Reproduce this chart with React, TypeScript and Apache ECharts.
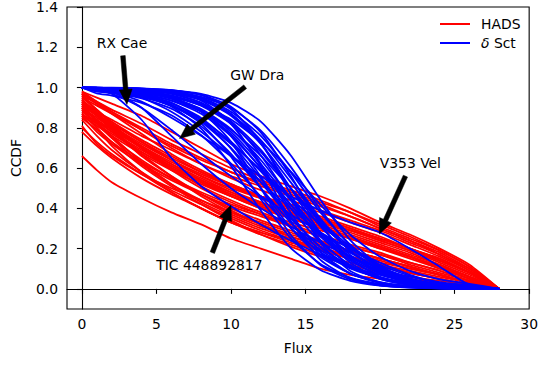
import React, { useEffect, useRef } from 'react';
import * as echarts from 'echarts';

const fluxGrid = [0, 1, 2, 4, 6, 8, 10, 12, 14, 16, 18, 20, 22, 24, 26, 28];

// HADS (red) CCDF curves, values at fluxGrid
const hadsCurves = [
  [0.98, 0.95, 0.92, 0.86, 0.78, 0.70, 0.62, 0.56, 0.51, 0.46, 0.40, 0.33, 0.27, 0.20, 0.12, 0],
  [0.97, 0.93, 0.89, 0.82, 0.74, 0.67, 0.60, 0.54, 0.49, 0.44, 0.38, 0.32, 0.26, 0.19, 0.11, 0],
  [0.95, 0.91, 0.87, 0.79, 0.71, 0.64, 0.58, 0.52, 0.47, 0.42, 0.36, 0.30, 0.24, 0.18, 0.10, 0],
  [0.93, 0.88, 0.84, 0.76, 0.69, 0.62, 0.56, 0.51, 0.46, 0.41, 0.36, 0.30, 0.24, 0.17, 0.10, 0],
  [0.96, 0.92, 0.88, 0.80, 0.72, 0.65, 0.58, 0.53, 0.48, 0.43, 0.38, 0.31, 0.25, 0.19, 0.11, 0],
  [0.92, 0.87, 0.82, 0.73, 0.65, 0.58, 0.52, 0.46, 0.41, 0.36, 0.31, 0.26, 0.20, 0.15, 0.08, 0],
  [0.90, 0.85, 0.80, 0.71, 0.63, 0.56, 0.50, 0.45, 0.40, 0.35, 0.30, 0.25, 0.20, 0.14, 0.08, 0],
  [0.94, 0.88, 0.83, 0.74, 0.66, 0.58, 0.51, 0.45, 0.39, 0.34, 0.29, 0.24, 0.19, 0.13, 0.07, 0],
  [0.89, 0.84, 0.79, 0.70, 0.62, 0.55, 0.48, 0.42, 0.37, 0.32, 0.27, 0.22, 0.17, 0.12, 0.06, 0],
  [0.97, 0.92, 0.87, 0.77, 0.67, 0.59, 0.52, 0.46, 0.40, 0.35, 0.30, 0.25, 0.20, 0.14, 0.08, 0],
  [0.91, 0.86, 0.81, 0.72, 0.64, 0.57, 0.51, 0.46, 0.42, 0.38, 0.33, 0.28, 0.22, 0.16, 0.09, 0],
  [0.88, 0.83, 0.78, 0.69, 0.61, 0.54, 0.48, 0.43, 0.38, 0.34, 0.29, 0.24, 0.19, 0.14, 0.08, 0],
  [0.95, 0.89, 0.83, 0.73, 0.64, 0.56, 0.49, 0.43, 0.38, 0.33, 0.28, 0.23, 0.18, 0.12, 0.06, 0],
  [0.86, 0.81, 0.76, 0.67, 0.59, 0.52, 0.46, 0.41, 0.36, 0.31, 0.26, 0.21, 0.16, 0.11, 0.05, 0],
  [0.93, 0.87, 0.81, 0.71, 0.62, 0.54, 0.47, 0.41, 0.36, 0.31, 0.26, 0.21, 0.16, 0.10, 0.05, 0],
  [0.90, 0.84, 0.78, 0.68, 0.60, 0.53, 0.47, 0.42, 0.37, 0.33, 0.29, 0.25, 0.20, 0.15, 0.08, 0],
  [0.98, 0.93, 0.88, 0.79, 0.70, 0.62, 0.55, 0.49, 0.44, 0.39, 0.34, 0.29, 0.23, 0.17, 0.09, 0],
  [0.87, 0.82, 0.77, 0.68, 0.60, 0.53, 0.46, 0.40, 0.35, 0.30, 0.25, 0.20, 0.15, 0.10, 0.05, 0],
  [0.92, 0.86, 0.80, 0.70, 0.61, 0.53, 0.46, 0.40, 0.35, 0.30, 0.25, 0.21, 0.16, 0.11, 0.06, 0],
  [0.85, 0.79, 0.73, 0.63, 0.55, 0.48, 0.42, 0.37, 0.32, 0.27, 0.22, 0.18, 0.13, 0.09, 0.04, 0],
  [0.89, 0.82, 0.75, 0.64, 0.55, 0.47, 0.40, 0.34, 0.29, 0.24, 0.19, 0.15, 0.11, 0.07, 0.03, 0],
  [0.81, 0.72, 0.66, 0.57, 0.50, 0.44, 0.38, 0.33, 0.28, 0.23, 0.19, 0.15, 0.11, 0.07, 0.03, 0],
  [0.94, 0.86, 0.79, 0.66, 0.56, 0.47, 0.39, 0.32, 0.26, 0.21, 0.16, 0.12, 0.08, 0.05, 0.02, 0],
  [0.66, 0.59, 0.53, 0.45, 0.38, 0.32, 0.25, 0.20, 0.15, 0.10, 0.07, 0.05, 0.03, 0.02, 0.01, 0],
  [0.84, 0.76, 0.69, 0.58, 0.49, 0.42, 0.35, 0.29, 0.24, 0.19, 0.15, 0.11, 0.08, 0.05, 0.02, 0],
  [0.91, 0.83, 0.76, 0.63, 0.52, 0.43, 0.36, 0.30, 0.25, 0.20, 0.16, 0.12, 0.09, 0.06, 0.03, 0],
  [0.87, 0.80, 0.73, 0.61, 0.51, 0.42, 0.34, 0.27, 0.21, 0.16, 0.12, 0.08, 0.05, 0.03, 0.01, 0],
  [0.96, 0.89, 0.82, 0.70, 0.59, 0.50, 0.43, 0.37, 0.31, 0.26, 0.21, 0.17, 0.13, 0.09, 0.04, 0],
  [0.78, 0.71, 0.65, 0.55, 0.47, 0.40, 0.33, 0.27, 0.22, 0.17, 0.13, 0.09, 0.06, 0.04, 0.02, 0],
  [0.92, 0.83, 0.75, 0.62, 0.52, 0.44, 0.37, 0.31, 0.26, 0.22, 0.18, 0.14, 0.10, 0.07, 0.03, 0],
  [0.97, 0.88, 0.80, 0.67, 0.56, 0.46, 0.38, 0.32, 0.27, 0.23, 0.19, 0.15, 0.11, 0.07, 0.03, 0],
  [0.90, 0.80, 0.71, 0.58, 0.48, 0.40, 0.33, 0.28, 0.23, 0.19, 0.15, 0.11, 0.08, 0.05, 0.02, 0],
  [0.86, 0.78, 0.72, 0.62, 0.54, 0.47, 0.41, 0.36, 0.31, 0.26, 0.21, 0.17, 0.12, 0.08, 0.04, 0],
  [0.93, 0.87, 0.81, 0.70, 0.60, 0.51, 0.44, 0.38, 0.33, 0.29, 0.25, 0.20, 0.16, 0.11, 0.06, 0],
  [0.80, 0.73, 0.67, 0.57, 0.48, 0.40, 0.33, 0.28, 0.24, 0.20, 0.16, 0.13, 0.10, 0.07, 0.03, 0],
];

// delta Sct (blue) CCDF curves, values at fluxGrid
const dsctCurves = [
  [1.0, 0.999, 0.998, 0.995, 0.987, 0.968, 0.924, 0.831, 0.664, 0.443, 0.242, 0.114, 0.050, 0.021, 0.008, 0],
  [1.0, 0.998, 0.996, 0.992, 0.980, 0.954, 0.898, 0.786, 0.607, 0.394, 0.214, 0.102, 0.046, 0.020, 0.008, 0],
  [1.0, 0.996, 0.995, 0.988, 0.972, 0.938, 0.867, 0.739, 0.552, 0.349, 0.188, 0.092, 0.042, 0.019, 0.008, 0],
  [1.0, 0.999, 0.998, 0.995, 0.986, 0.963, 0.905, 0.777, 0.562, 0.321, 0.148, 0.060, 0.023, 0.009, 0.003, 0],
  [1.0, 0.995, 0.992, 0.982, 0.961, 0.917, 0.832, 0.690, 0.500, 0.310, 0.168, 0.083, 0.039, 0.018, 0.008, 0],
  [1.0, 0.998, 0.997, 0.991, 0.978, 0.946, 0.870, 0.721, 0.500, 0.279, 0.130, 0.054, 0.022, 0.008, 0.003, 0],
  [1.0, 0.992, 0.988, 0.975, 0.947, 0.893, 0.794, 0.640, 0.452, 0.277, 0.151, 0.076, 0.037, 0.017, 0.008, 0],
  [1.0, 0.997, 0.995, 0.987, 0.968, 0.924, 0.831, 0.664, 0.443, 0.242, 0.114, 0.050, 0.021, 0.008, 0.003, 0],
  [1.0, 0.992, 0.988, 0.973, 0.943, 0.881, 0.769, 0.599, 0.401, 0.231, 0.119, 0.057, 0.027, 0.012, 0.005, 0],
  [1.0, 0.998, 0.996, 0.989, 0.971, 0.924, 0.818, 0.622, 0.378, 0.182, 0.076, 0.029, 0.011, 0.004, 0.001, 0],
  [1.0, 0.988, 0.983, 0.963, 0.924, 0.849, 0.723, 0.548, 0.359, 0.206, 0.107, 0.053, 0.025, 0.012, 0.006, 0],
  [1.0, 0.995, 0.992, 0.979, 0.950, 0.886, 0.758, 0.557, 0.336, 0.169, 0.076, 0.032, 0.013, 0.005, 0.002, 0],
  [1.0, 0.990, 0.985, 0.966, 0.924, 0.841, 0.697, 0.500, 0.303, 0.159, 0.076, 0.034, 0.015, 0.007, 0.003, 0],
  [1.0, 0.996, 0.993, 0.982, 0.953, 0.881, 0.731, 0.500, 0.269, 0.119, 0.047, 0.018, 0.007, 0.002, 0.001, 0],
  [1.0, 0.990, 0.984, 0.963, 0.916, 0.821, 0.657, 0.445, 0.252, 0.124, 0.056, 0.024, 0.010, 0.004, 0.002, 0],
  [1.0, 0.990, 0.984, 0.960, 0.906, 0.796, 0.611, 0.389, 0.204, 0.094, 0.040, 0.016, 0.007, 0.003, 0.001, 0],
  [1.0, 0.987, 0.982, 0.966, 0.935, 0.881, 0.791, 0.661, 0.500, 0.339, 0.209, 0.119, 0.065, 0.034, 0.018, 0],
  [1.0, 0.982, 0.975, 0.953, 0.911, 0.841, 0.731, 0.583, 0.417, 0.269, 0.159, 0.089, 0.047, 0.025, 0.013, 0],
  [1.0, 0.981, 0.973, 0.946, 0.895, 0.807, 0.671, 0.500, 0.329, 0.193, 0.105, 0.054, 0.027, 0.013, 0.007, 0],
  [1.0, 0.991, 0.987, 0.975, 0.953, 0.911, 0.841, 0.731, 0.583, 0.417, 0.269, 0.159, 0.089, 0.047, 0.025, 0],
  [1.0, 0.999, 0.999, 0.996, 0.987, 0.962, 0.892, 0.731, 0.472, 0.228, 0.089, 0.031, 0.010, 0.003, 0.001, 0],
  [1.0, 0.999, 0.998, 0.993, 0.978, 0.935, 0.826, 0.609, 0.339, 0.144, 0.053, 0.018, 0.006, 0.002, 0.001, 0],
  [1.0, 0.971, 0.960, 0.924, 0.862, 0.763, 0.622, 0.458, 0.303, 0.182, 0.102, 0.056, 0.029, 0.015, 0.008, 0],
  [1.0, 0.998, 0.990, 0.950, 0.880, 0.780, 0.660, 0.530, 0.400, 0.280, 0.180, 0.100, 0.050, 0.020, 0.007, 0],
  [1.0, 0.997, 0.990, 0.960, 0.910, 0.830, 0.720, 0.590, 0.450, 0.320, 0.200, 0.110, 0.050, 0.020, 0.006, 0],
  [1.0, 0.995, 0.980, 0.900, 0.760, 0.620, 0.500, 0.400, 0.310, 0.230, 0.160, 0.100, 0.060, 0.030, 0.010, 0],
  [1.0, 0.997, 0.993, 0.980, 0.950, 0.890, 0.780, 0.620, 0.440, 0.280, 0.160, 0.080, 0.035, 0.014, 0.005, 0],
  [1.0, 0.999, 0.997, 0.990, 0.975, 0.940, 0.860, 0.720, 0.530, 0.340, 0.190, 0.090, 0.040, 0.015, 0.005, 0],
  [1.0, 0.990, 0.980, 0.955, 0.910, 0.830, 0.700, 0.530, 0.350, 0.210, 0.110, 0.050, 0.020, 0.008, 0.003, 0],
  [1.0, 0.995, 0.990, 0.970, 0.935, 0.870, 0.760, 0.600, 0.420, 0.260, 0.140, 0.070, 0.030, 0.012, 0.004, 0],
  [1.0, 0.998, 0.995, 0.985, 0.960, 0.910, 0.820, 0.680, 0.500, 0.330, 0.190, 0.100, 0.050, 0.020, 0.007, 0],
  [1.0, 0.999, 0.998, 0.993, 0.980, 0.950, 0.880, 0.760, 0.580, 0.380, 0.220, 0.110, 0.050, 0.020, 0.006, 0],
  // GW Dra
  [1.0, 0.990, 0.970, 0.900, 0.790, 0.670, 0.560, 0.460, 0.370, 0.280, 0.200, 0.130, 0.070, 0.030, 0.010, 0],
  // RX Cae / TIC 448892817
  [1.0, 0.990, 0.970, 0.840, 0.650, 0.510, 0.410, 0.320, 0.240, 0.170, 0.110, 0.070, 0.040, 0.020, 0.010, 0],
  // V353 Vel
  [1.0, 0.995, 0.980, 0.930, 0.850, 0.760, 0.660, 0.560, 0.460, 0.390, 0.330, 0.280, 0.200, 0.110, 0.020, 0],
];

const annotationNames = ['RX Cae', 'GW Dra', 'V353 Vel', 'TIC 448892817'];
const annotationTextX = [2.69, 11.76, 22.03, 8.55];
const annotationTextY = [1.223, 1.063, 0.624, 0.12];
const arrowTailX = [2.75, 10.95, 21.7, 8.75];
const arrowTailY = [1.158, 1.004, 0.56, 0.18];
const arrowHeadX = [3.02, 6.55, 19.95, 10.0];
const arrowHeadY = [0.916, 0.747, 0.273, 0.416];

const xTicks = [0, 5, 10, 15, 20, 25, 30];
const yTicks = [0, 0.2, 0.4, 0.6, 0.8, 1.0, 1.2, 1.4];

const FONT = 'DejaVu Sans';
const FS = 13.9;

export default function App() {
  const ref = useRef<HTMLDivElement>(null);
  useEffect(() => {
    document.body.style.margin = '0';
    const chart = echarts.init(ref.current!, null, { renderer: 'svg' });

    const makeLine = (name: string, color: string, c: number[]) => ({
      type: 'line',
      name,
      data: fluxGrid.map((x, i) => [x, c[i]]),
      symbol: 'none',
      smooth: 0.2,
      silent: true,
      lineStyle: { color, width: 1.8 },
      itemStyle: { color },
    });
    const lineSeries: any[] = [
      ...hadsCurves.map((c) => makeLine('HADS', '#ff0000', c)),
      ...dsctCurves.map((c) => makeLine('δ Sct', '#0000ff', c)),
    ];

    const arrowData = annotationNames.map((_, i) => [arrowTailX[i], arrowTailY[i], arrowHeadX[i], arrowHeadY[i]]);
    const textData = annotationNames.map((n, i) => [annotationTextX[i], annotationTextY[i]]);

    const option: any = {
      animation: false,
      grid: { left: 67, right: 10, top: 6, bottom: 56, show: true, borderColor: '#000', borderWidth: 1.1, backgroundColor: 'transparent' },
      legend: {
        data: [
          { name: 'HADS', icon: 'rect', itemStyle: { color: '#ff0000' } },
          { name: 'δ Sct', icon: 'rect', itemStyle: { color: '#0000ff' } },
        ],
        orient: 'vertical',
        left: 440,
        top: 17,
        padding: 0,
        itemWidth: 30,
        itemHeight: 2,
        itemGap: 5,
        formatter: (name: string) => (name === 'δ Sct' ? '{it|δ} Sct' : name),
        textStyle: {
          fontFamily: FONT,
          fontSize: FS,
          color: '#000',
          padding: [0, 0, 0, 6],
          lineHeight: 14,
          rich: { it: { fontStyle: 'italic', fontFamily: FONT, fontSize: FS, color: '#000', lineHeight: 14 } },
        },
      },
      xAxis: {
        type: 'value',
        min: -1,
        max: 30,
        name: 'Flux',
        nameLocation: 'middle',
        nameGap: 32,
        nameTextStyle: { fontFamily: FONT, fontSize: FS, color: '#000' },
        axisLine: { show: true, lineStyle: { color: '#000', width: 1.1 } },
        axisTick: { show: true, length: 5, lineStyle: { color: '#000', width: 1.1 }, customValues: xTicks },
        axisLabel: { fontFamily: FONT, fontSize: FS, color: '#000', margin: 8, customValues: xTicks },
        splitLine: { show: false },
      },
      yAxis: {
        type: 'value',
        min: -0.1,
        max: 1.4,
        name: 'CCDF',
        nameLocation: 'middle',
        nameGap: 44,
        nameTextStyle: { fontFamily: FONT, fontSize: FS, color: '#000' },
        axisLine: { show: true, lineStyle: { color: '#000', width: 1.1 } },
        axisTick: { show: true, length: 5, lineStyle: { color: '#000', width: 1.1 }, customValues: yTicks },
        axisLabel: {
          fontFamily: FONT,
          fontSize: FS,
          color: '#000',
          margin: 9,
          customValues: yTicks,
          formatter: (v: number) => v.toFixed(1),
        },
        splitLine: { show: false },
      },
      series: [
        ...lineSeries,
        {
          type: 'custom',
          name: 'arrows',
          coordinateSystem: 'cartesian2d',
          data: arrowData,
          z: 10,
          silent: true,
          renderItem: (params: any, api: any) => {
            const t = api.coord([api.value(0), api.value(1)]);
            const h = api.coord([api.value(2), api.value(3)]);
            const dx = h[0] - t[0];
            const dy = h[1] - t[1];
            const L = Math.sqrt(dx * dx + dy * dy);
            const ux = dx / L;
            const uy = dy / L;
            const nx = -uy;
            const ny = ux;
            const hl = 15;
            const hw = 6.5;
            const sw = 2.3;
            const bx = h[0] - ux * hl;
            const by = h[1] - uy * hl;
            const pts = [
              [t[0] + nx * sw, t[1] + ny * sw],
              [bx + nx * sw, by + ny * sw],
              [bx + nx * hw, by + ny * hw],
              [h[0], h[1]],
              [bx - nx * hw, by - ny * hw],
              [bx - nx * sw, by - ny * sw],
              [t[0] - nx * sw, t[1] - ny * sw],
            ];
            return { type: 'polygon', shape: { points: pts }, style: { fill: '#000', stroke: '#000', lineWidth: 0.5 } };
          },
        },
        {
          type: 'custom',
          name: 'labels',
          coordinateSystem: 'cartesian2d',
          data: textData,
          z: 11,
          silent: true,
          renderItem: (params: any, api: any) => {
            const p = api.coord([api.value(0), api.value(1)]);
            const idx = params.dataIndex;
            return {
              type: 'text',
              x: p[0],
              y: p[1],
              style: {
                text: annotationNames[idx],
                fill: '#000',
                font: `${FS}px "${FONT}"`,
                align: 'center',
                verticalAlign: 'middle',
                textAlign: 'center',
                textVerticalAlign: 'middle',
              },
            };
          },
        },
      ],
    };
    chart.setOption(option);
    return () => chart.dispose();
  }, []);
  return <div ref={ref} style={{ width: 541, height: 365 }} />;
}
